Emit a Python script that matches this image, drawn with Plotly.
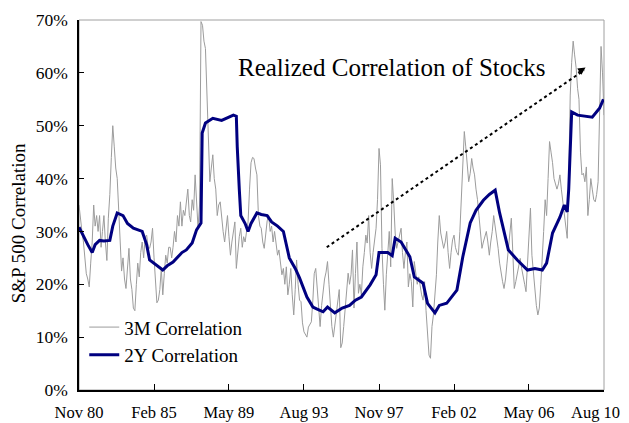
import pandas as pd
import plotly.graph_objects as go

# 3M realized correlation, monthly from Nov 1980 to Aug 2010 (percent)
corr_3m = [
    35, 32,
    30, 28, 25, 22, 21, 19.5, 24, 28, 35, 31, 33, 30,
    33, 27, 30, 33, 28, 24.5, 32.5, 37, 44, 50, 46, 42,
    40, 33, 28, 22.5, 25, 21, 19.2, 23, 26.8, 21, 19, 15.5,
    15, 20, 24, 21.4, 26, 28, 25, 29, 29.3, 27, 26.8, 28,
    30.6, 25, 20, 16.5, 17, 19, 23, 18, 22, 25.5, 24, 27,
    27, 25, 27, 30, 28, 33, 31, 35.6, 31, 34, 33, 36,
    38, 33, 31.8, 36, 34, 40.7, 35.6, 30.6, 35, 69.7, 69, 66,
    64.6, 56, 50, 39.4, 42, 44.5, 40, 38, 33, 35, 35.6, 32,
    30, 28, 31, 33, 29, 25.5, 28, 30, 31.8, 23, 27, 29,
    30.6, 27, 29, 28, 30, 31.8, 38, 43, 44, 43.8, 42, 40.7,
    33, 31, 30.6, 28, 26.8, 29, 32, 33, 30, 31, 28, 30,
    27, 25.5, 26.5, 24, 21.8, 23, 20, 23.3, 18, 20, 23, 18,
    14.2, 19, 24.6, 20, 17, 16.7, 12.7, 11, 10.4, 10, 11.9, 12.5,
    12.9, 17, 22, 23, 19.5, 15.5, 12, 16, 19.2, 21, 22.3, 24.3,
    20, 15.5, 12, 10, 12, 14.2, 16, 19, 8, 8.9, 12, 15.5,
    19, 22.1, 20, 21.8, 26.5, 15.5, 22, 28, 18.3, 20, 18, 23.3,
    26, 29.3, 27.8, 33, 26, 23, 26, 28, 30.6, 36, 45.7, 42.6,
    26.8, 20, 15.1, 21.8, 26, 30, 23.3, 40, 35.6, 29.7, 26.8, 28,
    29, 30.6, 26, 23, 26, 28, 19.5, 22, 20.5, 15.7, 24.3, 22,
    20, 21.4, 19.2, 18, 17, 20.5, 15, 10.4, 6.6, 6, 12, 14.2,
    18, 21.8, 28, 33, 29.7, 28, 26.8, 28, 30, 26, 23, 26,
    28.4, 29.3, 27, 26, 25.5, 30, 36.3, 42, 48.9, 46, 42, 39.4,
    41, 43.8, 42, 40.7, 38, 36, 33, 30, 26.8, 28, 29, 30,
    28, 25.5, 28, 30, 33, 31, 29, 26.8, 24, 21.8, 20.5, 19.2,
    21, 24, 26.8, 30, 32.5, 26, 19.2, 20.5, 22, 23.5, 24.9, 23,
    21.8, 20, 18.6, 24, 30, 34.4, 25.5, 22, 19.2, 16, 14.2, 15.5,
    20, 26.8, 30, 36, 33, 40, 47, 45, 43, 40, 39, 38,
    39, 40.7, 38, 35.6, 33, 31, 28.7, 40, 55.8, 62, 66, 63.4,
    61, 57, 55, 45, 40.7, 41, 39.4, 42.2, 33, 36, 40, 38,
    36, 35.6, 37, 39.4, 50, 65, 60, 52,
]
dates_3m = pd.date_range("1980-11-01", periods=len(corr_3m), freq="MS")

# 2Y realized correlation (percent)
dates_2y = [
    "1980-11-01", "1981-02-01", "1981-05-01", "1981-08-01", "1981-10-01",
    "1982-01-01", "1982-04-01", "1982-08-01", "1982-10-01", "1983-01-01",
    "1983-05-01", "1983-08-01", "1983-12-01", "1984-06-01", "1984-09-01",
    "1984-11-01", "1985-04-01", "1985-08-01", "1985-11-01", "1986-03-01",
    "1986-09-01", "1986-12-01", "1987-04-01", "1987-07-01", "1987-10-01",
    "1987-10-25", "1988-01-01", "1988-06-01", "1988-12-01", "1989-04-01",
    "1989-08-01", "1989-10-01", "1989-10-20", "1989-12-01", "1990-01-01",
    "1990-04-01", "1990-06-01", "1990-08-01", "1990-12-01", "1991-03-01",
    "1991-07-01", "1991-10-01", "1992-02-01", "1992-06-01", "1992-08-01",
    "1992-10-01", "1993-02-01", "1993-05-01", "1993-10-01", "1994-02-01",
    "1994-05-01", "1994-09-01", "1994-12-01", "1995-05-01", "1995-10-01",
    "1996-03-01", "1996-07-01", "1996-11-01", "1997-05-01", "1997-09-01",
    "1997-11-01", "1998-05-01", "1998-08-01", "1998-10-01", "1999-02-01",
    "1999-08-01", "1999-11-01", "2000-05-01", "2000-08-01", "2001-01-01",
    "2001-04-01", "2001-09-01", "2002-04-01", "2002-08-01", "2003-01-01",
    "2003-05-01", "2003-10-01", "2004-02-01", "2004-06-01", "2004-09-01",
    "2005-03-01", "2005-09-01", "2006-04-01", "2006-09-01", "2007-02-01",
    "2007-05-01", "2007-09-01", "2008-02-01", "2008-05-01", "2008-07-01",
    "2008-08-01", "2008-10-01", "2009-02-01", "2009-07-01", "2009-12-01",
    "2010-05-01", "2010-07-20",
]
corr_2y = [
    30.8, 29.0, 27.5, 26.0, 27.5,
    28.3, 28.2, 28.3, 31.0, 33.5,
    33.0, 31.5, 30.6, 30.0, 27.5,
    24.6, 23.5, 22.7, 23.5, 24.2,
    26.0, 26.5, 27.8, 30.3, 31.6,
    48.6, 50.5, 51.4, 51.0, 51.5,
    52.0, 51.8, 46.0, 38.0, 33.0,
    31.5, 30.0, 31.5, 33.5, 33.2,
    33.0, 31.8, 31.0, 30.0, 27.5,
    25.0, 23.0, 21.2, 17.6, 15.7,
    15.3, 14.8, 15.7, 14.6, 15.5,
    16.0, 17.0, 17.6, 19.9, 21.8,
    26.0, 26.0, 25.4, 28.7, 28.0,
    25.2, 21.4, 20.2, 16.4, 14.6,
    16.0, 16.4, 18.9, 25.2, 31.6,
    34.0, 35.9, 37.0, 37.8, 33.5,
    26.5, 24.6, 22.7, 23.0, 22.7,
    24.0, 29.7, 32.7, 35.0, 33.7,
    38.0, 52.6, 52.0, 51.8, 51.6,
    53.3, 55.0,
]

tick_dates = ["1980-11-01", "1985-02-01", "1989-05-01", "1993-08-01",
              "1997-11-01", "2002-02-01", "2006-05-01", "2010-08-01"]
tick_labels = ["Nov 80", "Feb 85", "May 89", "Aug 93",
               "Nov 97", "Feb 02", "May 06", "Aug 10"]

font = "Liberation Serif"

fig = go.Figure()
fig.add_trace(go.Scatter(x=dates_3m, y=[v / 100 for v in corr_3m], mode="lines",
                         name="3M Correlation", line=dict(color="#9c9c9c", width=1)))
fig.add_trace(go.Scatter(x=dates_2y, y=[v / 100 for v in corr_2y], mode="lines",
                         name="2Y Correlation", line=dict(color="#000080", width=3)))

# frame
fig.add_shape(type="rect", xref="paper", yref="paper", x0=0, y0=0, x1=1, y1=1,
              line=dict(color="#a0a0a0", width=1), layer="below")

# dotted trend arrow
fig.add_shape(type="line", x0="1994-11-15", y0=0.27, x1="2009-06-15", y1=0.605,
              line=dict(color="black", width=2, dash="dot"))
fig.add_annotation(x="2009-07-15", y=0.61, ax=-9, ay=6, text="", showarrow=True,
                   arrowhead=2, arrowsize=1, arrowwidth=1.5, arrowcolor="black")

fig.add_annotation(x="1989-09-20", y=0.61, text="Realized Correlation of Stocks",
                   showarrow=False, xanchor="left",
                   font=dict(family=font, size=25, color="black"))

# y axis title, sits a little below the middle in the original
fig.add_annotation(x=-0.116, xref="paper", y=0.451, yref="paper", text="S&P 500 Correlation",
                   textangle=-90, showarrow=False, xanchor="center", yanchor="middle",
                   font=dict(family=font, size=19, color="black"))

# last tick label is pulled in so it stays inside the window
fig.add_annotation(x=1.034, xref="paper", y=-0.06, yref="paper", text=tick_labels[-1],
                   showarrow=False, xanchor="right", yanchor="middle",
                   font=dict(family=font, size=16.5, color="black"))

# the page puts the plot 8px in from the top-left corner
fig.update_layout(
    width=621, height=415,
    margin=dict(l=71, r=25, t=12, b=33),
    paper_bgcolor="white", plot_bgcolor="white",
    font=dict(family=font, size=17.5, color="black"),
    showlegend=True,
    legend=dict(x=0.01, y=0.221, xanchor="left", yanchor="top", bgcolor="rgba(0,0,0,0)",
                font=dict(size=19), itemwidth=30, tracegroupgap=0),
    xaxis=dict(range=["1980-11-01", "2010-08-01"], tickvals=tick_dates,
               ticktext=tick_labels[:-1] + [""],
               showgrid=False, zeroline=False, showline=True, linecolor="black", linewidth=1.5,
               ticks="inside", ticklen=6, tickcolor="black", automargin=False,
               ticklabelstandoff=6, ticklabeloverflow="allow", tickfont=dict(size=16.5)),
    yaxis=dict(range=[0, 0.7], dtick=0.1, tickformat=".0%", showgrid=False, zeroline=False,
               showline=True, linecolor="black", linewidth=1.5, ticks="inside", ticklen=5,
               tickcolor="black", automargin=False, ticklabelstandoff=6),
)

fig.write_html("out.html")
